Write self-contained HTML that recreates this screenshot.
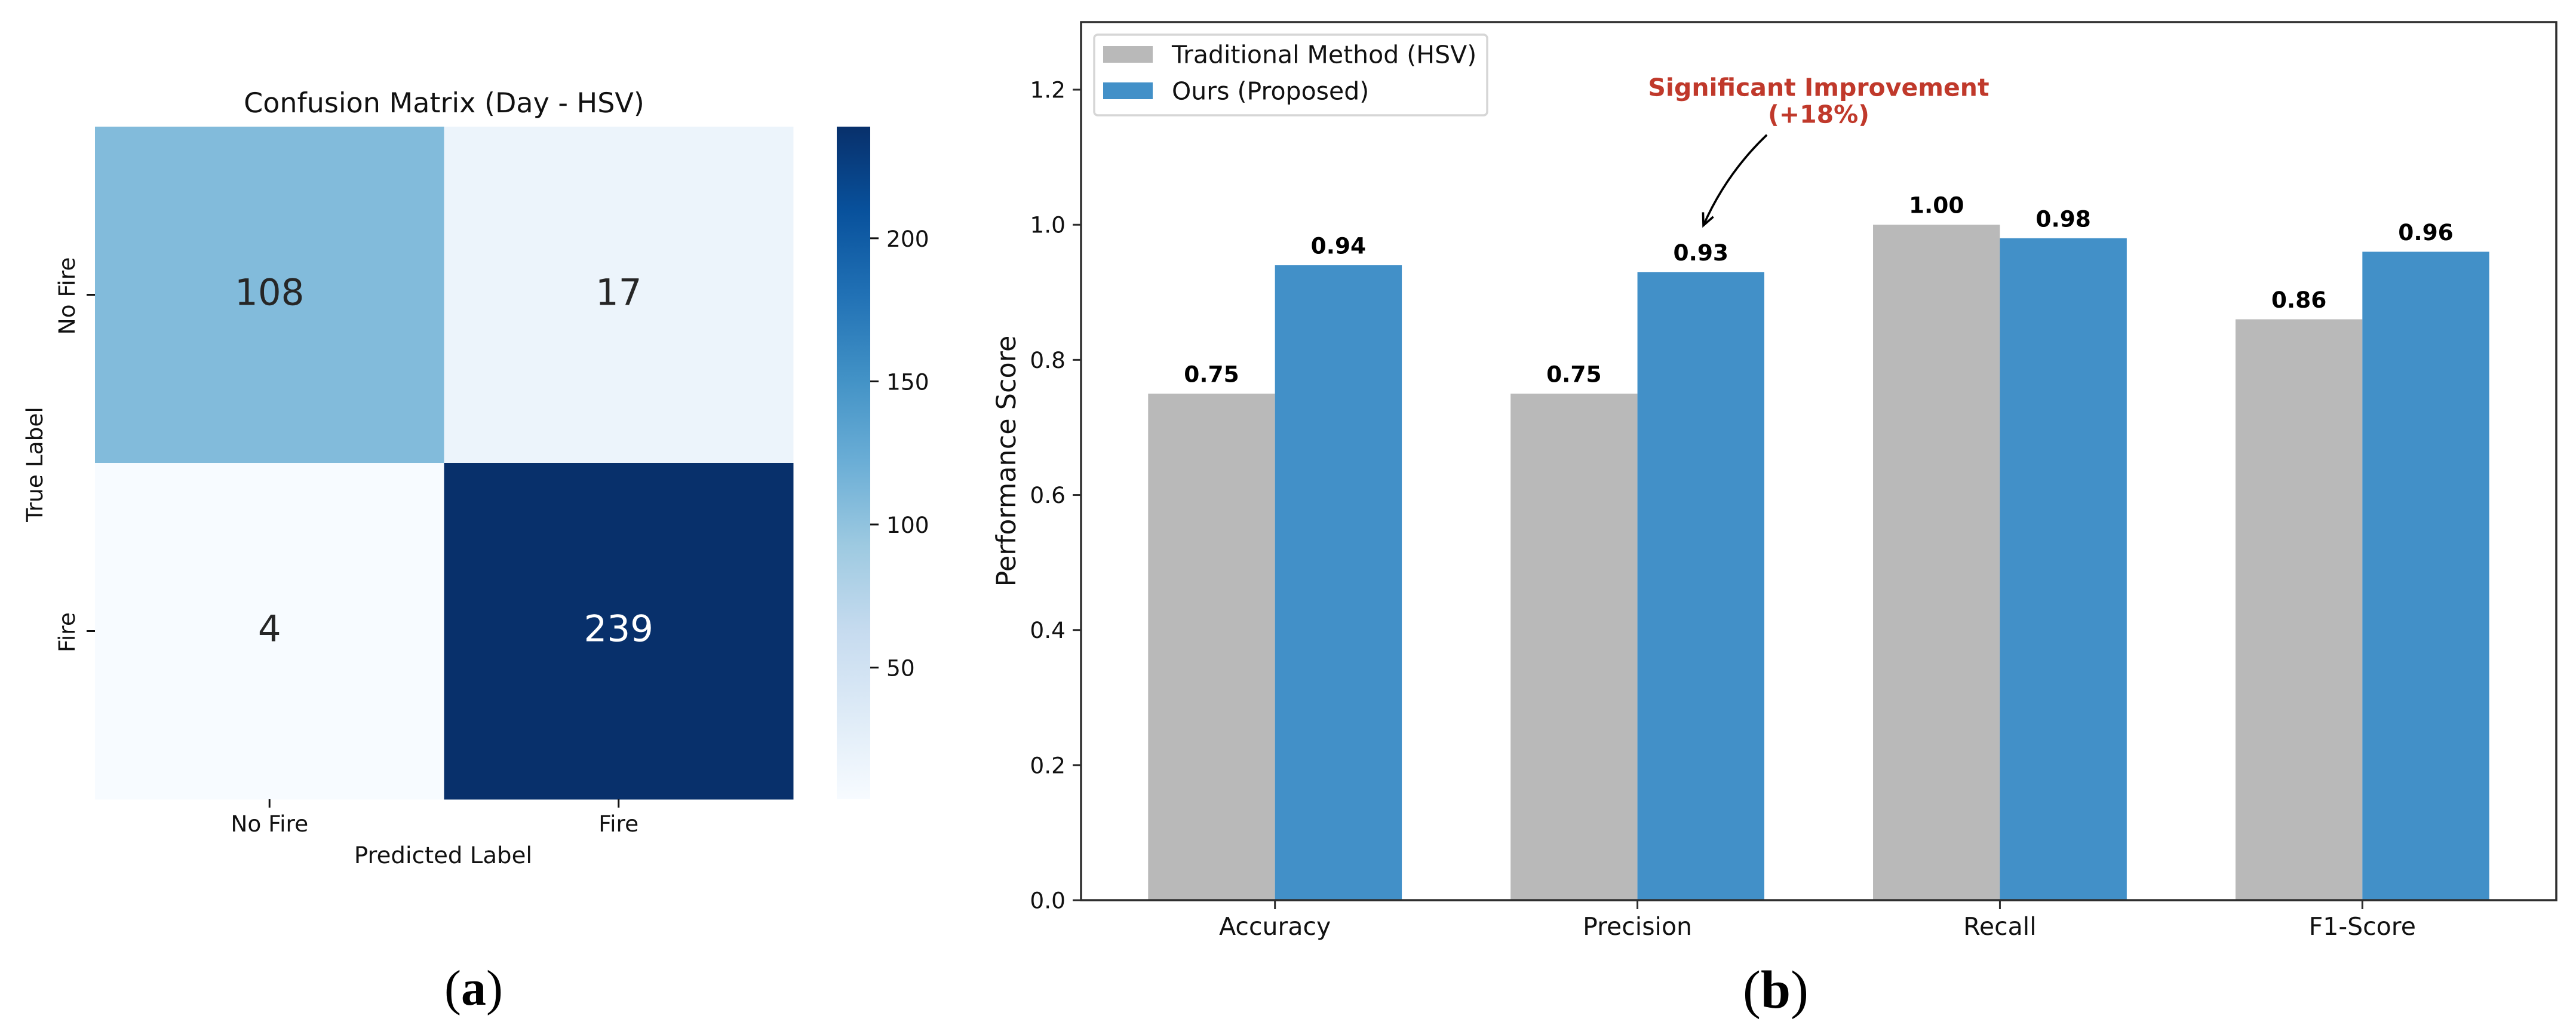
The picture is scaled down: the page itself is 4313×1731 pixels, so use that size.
<!DOCTYPE html>
<html lang="en">
<head>
<meta charset="utf-8">
<title>Confusion matrix and performance comparison</title>
<style>
  html, body { margin: 0; padding: 0; background: #ffffff; }
  svg { display: block; }
  text { font-family: "DejaVu Sans", "Liberation Sans", sans-serif; text-rendering: geometricPrecision; }
  .serif { font-family: "Liberation Serif", "DejaVu Serif", serif; }
</style>
</head>
<body>
<svg id="figure" xmlns="http://www.w3.org/2000/svg" width="4313" height="1731" viewBox="0 0 4313 1731">
  <rect x="0" y="0" width="4313" height="1731" fill="#ffffff"/>
  <defs>
    <linearGradient id="blues-gradient" x1="0" y1="1" x2="0" y2="0"></linearGradient>
  </defs>

  <g id="panel-a">
    <text x="743.5" y="188" font-size="46" text-anchor="middle" fill="#111">Confusion Matrix (Day - HSV)</text>
    <text x="742" y="1445" font-size="38.7" text-anchor="middle" fill="#111">Predicted Label</text>
    <text transform="translate(71 777.5) rotate(-90)" font-size="37.5" text-anchor="middle" fill="#111">True Label</text>
    <text class="serif" x="793" y="1682" font-size="84" text-anchor="middle" fill="#000">(<tspan font-weight="bold">a</tspan>)</text>
  </g>

  <g id="panel-b">
    <text transform="translate(1700 772) rotate(-90)" font-size="44.5" text-anchor="middle" fill="#111">Performance Score</text>
    <text class="serif" x="2973" y="1687" font-size="90" text-anchor="middle" fill="#000">(<tspan font-weight="bold">b</tspan>)</text>
  </g>
</svg>

<script>
// ---- Confusion matrix data ----
const matrixLabels = ['No Fire', 'Fire'];
const matrixRowNoFire = [108, 17];
const matrixRowFire = [4, 239];
const colorbarTicks = [50, 100, 150, 200];

// ---- Bar chart data ----
const metricNames = ['Accuracy', 'Precision', 'Recall', 'F1-Score'];
const traditionalScores = [0.75, 0.75, 1.00, 0.86];
const oursScores = [0.94, 0.93, 0.98, 0.96];
const scoreTicks = [0.0, 0.2, 0.4, 0.6, 0.8, 1.0, 1.2];
const legendLabels = ['Traditional Method (HSV)', 'Ours (Proposed)'];

// ---- Matplotlib "Blues" colormap anchors ----
const bluesStops = ['#f7fbff', '#deebf7', '#c6dbef', '#9ecae1', '#6baed6', '#4292c6', '#2171b5', '#08519c', '#08306b'];

const SVG_NS = 'http://www.w3.org/2000/svg';
const GRAY = '#b9b9b9';
const BLUE = '#4290c8';
const INK = '#111111';
const AXIS = '#2e2e2e';

function make(parent, tag, attrs, textValue) {
  const el = document.createElementNS(SVG_NS, tag);
  for (const key in attrs) {
    el.setAttribute(key, attrs[key]);
  }
  if (textValue !== undefined) {
    el.textContent = textValue;
  }
  parent.appendChild(el);
  return el;
}

function hexToRgb(hex) {
  return [1, 3, 5].map(function (i) { return parseInt(hex.substr(i, 2), 16); });
}

function bluesColor(t) {
  const clamped = Math.max(0, Math.min(1, t));
  const pos = clamped * (bluesStops.length - 1);
  const lo = Math.min(Math.floor(pos), bluesStops.length - 2);
  const f = pos - lo;
  const a = hexToRgb(bluesStops[lo]);
  const b = hexToRgb(bluesStops[lo + 1]);
  const c = a.map(function (v, i) { return Math.round(v + (b[i] - v) * f); });
  return 'rgb(' + c.join(',') + ')';
}

// ---- Panel (a): heatmap ----
(function drawHeatmap() {
  const panel = document.getElementById('panel-a');
  const rows = [matrixRowNoFire, matrixRowFire];
  const all = rows[0].concat(rows[1]);
  const vMin = Math.min.apply(null, all);
  const vMax = Math.max.apply(null, all);
  const norm = function (v) { return (v - vMin) / (vMax - vMin); };

  const left = 159, right = 1328, top = 212, bottom = 1338;
  const cellW = (right - left) / matrixLabels.length;
  const cellH = (bottom - top) / rows.length;
  const colX = function (c) { return left + c * cellW; };
  const rowY = function (r) { return top + r * cellH; };

  rows.forEach(function (row, r) {
    row.forEach(function (value, c) {
      const cell = make(panel, 'rect', { x: colX(c), y: rowY(r), width: cellW + 0.5, height: cellH + 0.5, fill: bluesColor(norm(value)) });
      
      
    });
  });

  rows.forEach(function (row, r) {
    row.forEach(function (value, c) {
      const label = make(panel, 'text', {
        x: colX(c) + cellW / 2, y: rowY(r) + cellH / 2 + 17,
        'font-size': 61, 'text-anchor': 'middle',
        fill: norm(value) > 0.6 ? '#ffffff' : '#262626'
      }, String(value));
      
      
    });
  });

  matrixLabels.forEach(function (name, c) {
    const cx = colX(c) + cellW / 2;
    const tick = make(panel, 'line', { x1: cx, x2: cx, y1: bottom, y2: bottom + 14, stroke: INK, 'stroke-width': 3 });
    
    
    const label = make(panel, 'text', { x: cx, y: 1392, 'font-size': 37.5, 'text-anchor': 'middle', fill: INK }, name);
    
    
  });

  matrixLabels.forEach(function (name, r) {
    const cy = rowY(r) + cellH / 2;
    const tick = make(panel, 'line', { x1: left - 14, x2: left, y1: cy, y2: cy, stroke: INK, 'stroke-width': 3 });
    
    
    const label = make(panel, 'text', {
      transform: 'translate(125 ' + (cy + 2) + ') rotate(-90)',
      'font-size': 37.5, 'text-anchor': 'middle', fill: INK
    }, name);
    
    
  });

  // Colorbar
  const gradient = document.getElementById('blues-gradient');
  bluesStops.forEach(function (color, i) {
    make(gradient, 'stop', { offset: i / (bluesStops.length - 1), 'stop-color': color });
  });
  const barLeft = 1401, barRight = 1457;
  const bar = make(panel, 'rect', { x: barLeft, y: top, width: barRight - barLeft, height: bottom - top, fill: 'url(#blues-gradient)' });
  
  
  const barY = function (v) { return bottom - norm(v) * (bottom - top); };
  colorbarTicks.forEach(function (v) {
    const y = barY(v);
    const tick = make(panel, 'line', { x1: barRight, x2: barRight + 14, y1: y, y2: y, stroke: INK, 'stroke-width': 3 });
    
    
    const label = make(panel, 'text', { x: 1484, y: y + 14, 'font-size': 37.5, fill: INK }, String(v));
    
    
  });
})();

// ---- Panel (b): grouped bars ----
(function drawBars() {
  const panel = document.getElementById('panel-b');
  const plotL = 1810, plotR = 4280, plotT = 37, plotB = 1507;
  const xMin = -0.535, xMax = 3.535, yMin = 0, yMax = 1.3;
  const barWidth = 0.35;
  const xScale = function (v) { return plotL + (v - xMin) / (xMax - xMin) * (plotR - plotL); };
  const yScale = function (v) { return plotB - (v - yMin) / (yMax - yMin) * (plotB - plotT); };

  function drawSeries(values, offset, color, key) {
    values.forEach(function (value, i) {
      const x0 = xScale(i + offset - barWidth / 2);
      const x1 = xScale(i + offset + barWidth / 2);
      const y = yScale(value);
      const bar = make(panel, 'rect', { x: x0, y: y, width: x1 - x0, height: plotB - y, fill: color });
      
      
    });
  }
  function drawValues(values, offset, key) {
    values.forEach(function (value, i) {
      const label = make(panel, 'text', {
        x: xScale(i + offset), y: yScale(value) - 19.5,
        'font-size': 37.5, 'font-weight': 'bold', 'text-anchor': 'middle', fill: '#000'
      }, value.toFixed(2));
      
      
    });
  }
  drawSeries(traditionalScores, -barWidth / 2, GRAY, 'traditional');
  drawSeries(oursScores, barWidth / 2, BLUE, 'ours');
  drawValues(traditionalScores, -barWidth / 2, 'traditional');
  drawValues(oursScores, barWidth / 2, 'ours');

  // Frame
  const frame = make(panel, 'rect', { x: plotL, y: plotT, width: plotR - plotL, height: plotB - plotT, fill: 'none', stroke: AXIS, 'stroke-width': 3.5 });
  
  

  // Y ticks
  scoreTicks.forEach(function (v) {
    const y = yScale(v);
    const tick = make(panel, 'line', { x1: plotL - 14, x2: plotL, y1: y, y2: y, stroke: AXIS, 'stroke-width': 3 });
    
    
    const label = make(panel, 'text', { x: 1784, y: y + 13.5, 'font-size': 37.5, 'text-anchor': 'end', fill: INK }, v.toFixed(1));
    
    
  });

  // X ticks
  metricNames.forEach(function (name, i) {
    const x = xScale(i);
    const tick = make(panel, 'line', { x1: x, x2: x, y1: plotB, y2: plotB + 15, stroke: AXIS, 'stroke-width': 3 });
    
    
    const label = make(panel, 'text', { x: x, y: 1565, 'font-size': 41, 'text-anchor': 'middle', fill: INK }, name);
    
    
  });

  // Legend
  const legend = make(panel, 'g', {});
  
  
  const legendBox = make(legend, 'rect', { x: 1832, y: 58, width: 658, height: 135, rx: 6, ry: 6, fill: '#ffffff', stroke: '#d6d6d6', 'stroke-width': 3.5 });
  
  
  const legendColors = [GRAY, BLUE];
  legendLabels.forEach(function (name, i) {
    const rowTop = 77 + i * 61;
    const swatch = make(legend, 'rect', { x: 1847, y: rowTop, width: 83, height: 28, fill: legendColors[i] });
    
    
    const label = make(legend, 'text', { x: 1962, y: rowTop + 28.5, 'font-size': 41, fill: INK }, name);
    
    
  });

  // Annotation (anchored in data coordinates)
  const noteColor = '#c0392b';
  const noteX = xScale(1.5);
  const noteLine1 = make(panel, 'text', { x: noteX, y: yScale(1.191), 'font-size': 41, 'font-weight': 'bold', 'text-anchor': 'middle', fill: noteColor }, 'Significant Improvement');
  
  
  const noteLine2 = make(panel, 'text', { x: noteX, y: yScale(1.151), 'font-size': 41, 'font-weight': 'bold', 'text-anchor': 'middle', fill: noteColor }, '(+18%)');
  
  

  const sx = xScale(1.357), sy = yScale(1.133);
  const tx = xScale(1.182), ty = yScale(0.999);
  const dx = tx - sx, dy = ty - sy;
  const rad = 0.1;
  const cx = (sx + tx) / 2 + rad * dy * -1;
  const cy = (sy + ty) / 2 + rad * dx;
  const curve = make(panel, 'path', { d: 'M' + sx + ' ' + sy + ' Q' + cx + ' ' + cy + ' ' + tx + ' ' + ty, fill: 'none', stroke: '#000', 'stroke-width': 3.6 });
  
  
  const backAngle = Math.atan2(cy - ty, cx - tx);
  const wing = 22, spread = 0.44;
  const w1x = tx + wing * Math.cos(backAngle + spread), w1y = ty + wing * Math.sin(backAngle + spread);
  const w2x = tx + wing * Math.cos(backAngle - spread), w2y = ty + wing * Math.sin(backAngle - spread);
  const head = make(panel, 'path', { d: 'M' + w1x + ' ' + w1y + ' L' + tx + ' ' + ty + ' L' + w2x + ' ' + w2y, fill: 'none', stroke: '#000', 'stroke-width': 3.6 });
  
  
})();
</script>
</body>
</html>
